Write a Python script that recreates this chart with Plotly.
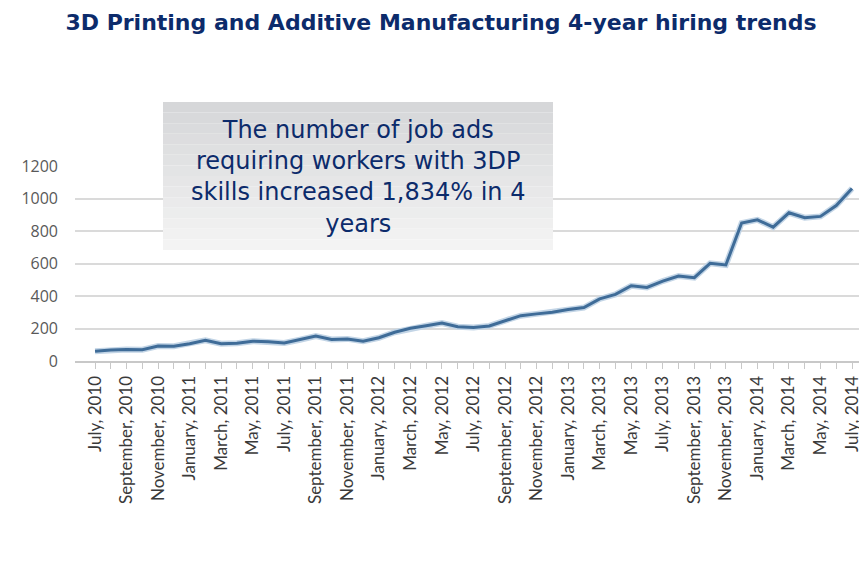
import plotly.graph_objects as go

months = [
    "July, 2010", "August, 2010", "September, 2010", "October, 2010", "November, 2010", "December, 2010",
    "January, 2011", "February, 2011", "March, 2011", "April, 2011", "May, 2011", "June, 2011",
    "July, 2011", "August, 2011", "September, 2011", "October, 2011", "November, 2011", "December, 2011",
    "January, 2012", "February, 2012", "March, 2012", "April, 2012", "May, 2012", "June, 2012",
    "July, 2012", "August, 2012", "September, 2012", "October, 2012", "November, 2012", "December, 2012",
    "January, 2013", "February, 2013", "March, 2013", "April, 2013", "May, 2013", "June, 2013",
    "July, 2013", "August, 2013", "September, 2013", "October, 2013", "November, 2013", "December, 2013",
    "January, 2014", "February, 2014", "March, 2014", "April, 2014", "May, 2014", "June, 2014",
    "July, 2014",
]

job_ads = [
    60, 68, 71, 70, 92, 91,
    106, 127, 106, 109, 122, 119,
    111, 131, 153, 133, 136, 122,
    143, 177, 201, 217, 234, 211,
    206, 216, 249, 279, 290, 300,
    317, 329, 382, 410, 463, 453,
    492, 523, 513, 601, 591, 849,
    869, 824, 912, 882, 890, 957,
    1062,
]

tick_labels = [m if i % 2 == 0 else "" for i, m in enumerate(months)]
y_ticks = [0, 200, 400, 600, 800, 1000, 1200]

title_text = "3D Printing and Additive Manufacturing 4-year hiring trends"
note_text = "The number of job ads<br>requiring workers with 3DP<br>skills increased 1,834% in 4<br>years"

navy = "#0c2b6b"

# page body adds an 8px offset; figure is sized to fit the window
OFF = 8
W, H = 867 - OFF, 585 - OFF
L = 75 - OFF
T = 166 - OFF
B = H - (361 - OFF)
R = W - (861 - OFF)
pw, ph = W - L - R, H - T - B

def px(x):
    return (x - OFF - L) / pw

def py(y):
    return (H - B - (y - OFF)) / ph

fig = go.Figure()
fig.add_trace(go.Scatter(
    x=months, y=job_ads, mode="lines",
    line=dict(color="#c3d5e6", width=6), hoverinfo="skip", showlegend=False,
))
fig.add_trace(go.Scatter(
    x=months, y=job_ads, mode="lines",
    line=dict(color="#3f6c98", width=3), showlegend=False,
))

# annotation box with a soft vertical gradient
x0, x1, y0, y1 = px(163), px(553), py(250), py(102)
n = 14
top_rgb = (214, 215, 217)
bot_rgb = (243, 243, 243)
for k in range(n):
    t = k / (n - 1)
    c = tuple(int(round(top_rgb[j] + (bot_rgb[j] - top_rgb[j]) * t)) for j in range(3))
    ya = y1 - (y1 - y0) * k / n
    yb = y1 - (y1 - y0) * (k + 1) / n
    fig.add_shape(type="rect", xref="paper", yref="paper", x0=x0, x1=x1, y0=yb, y1=ya,
                  fillcolor="rgb(%d,%d,%d)" % c, line=dict(width=0), layer="above")

fig.add_annotation(
    xref="paper", yref="paper", x=(x0 + x1) / 2, y=py(177), text=note_text,
    showarrow=False, align="center", xanchor="center", yanchor="middle",
    font=dict(family="DejaVu Sans, sans-serif", size=24, color=navy),
)

fig.update_layout(
    width=W, height=H,
    margin=dict(l=L, r=R, t=T, b=B),
    paper_bgcolor="white", plot_bgcolor="white",
    title=dict(text="<b>" + title_text + "</b>", x=(441 - OFF) / W, xanchor="center",
               y=1 - (22 - OFF) / H, yanchor="middle", yref="container",
               font=dict(family="DejaVu Sans, sans-serif", size=22, color=navy)),
    xaxis=dict(
        type="category", categoryorder="array", categoryarray=months,
        range=[-1.27, 48.57], automargin=False,
        tickmode="array", tickvals=months, ticktext=tick_labels,
        tickangle=-90, ticks="outside", ticklen=6, tickcolor="#c8c8c8",
        showgrid=False, showline=True, linecolor="#c8c8c8", linewidth=2,
        tickfont=dict(family="Lato, sans-serif", size=17, color="#3a3a3a"),
        fixedrange=True,
    ),
    yaxis=dict(
        range=[0, 1200], tickmode="array", tickvals=y_ticks, automargin=False,
        showgrid=True, gridcolor="#dadada", gridwidth=1.5,
        zeroline=False, showline=False, ticks="",
        tickfont=dict(family="Open Sans, sans-serif", size=16, color="#595959"),
        ticklabelstandoff=16,
    ),
)

fig.write_html("out.html")
